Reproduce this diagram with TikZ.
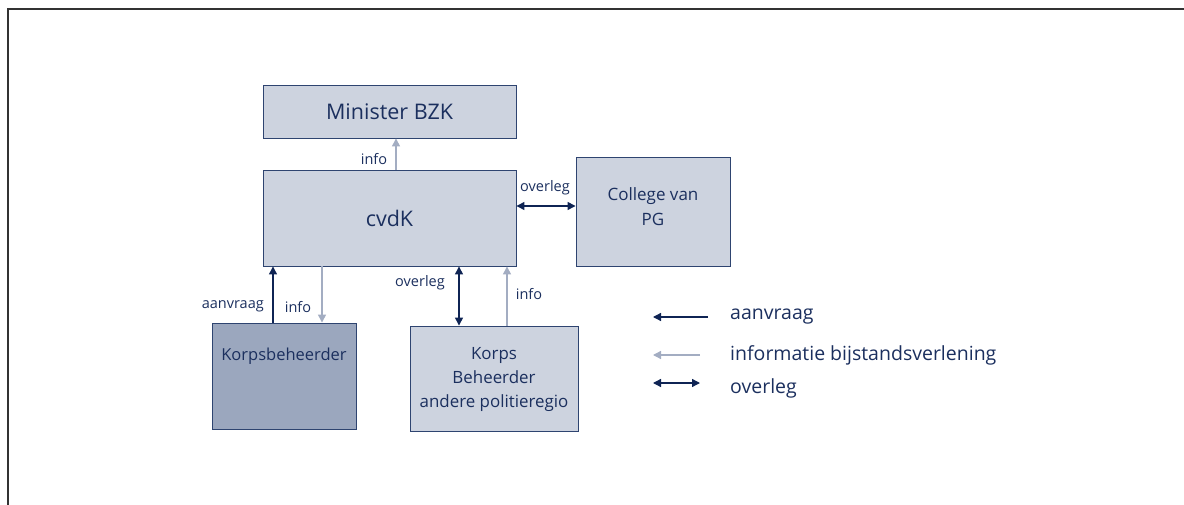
\documentclass[tikz,border=0pt]{standalone}
\usepackage{fontspec}
\setmainfont{Open Sans}
\usetikzlibrary{arrows.meta}
\definecolor{boxfill}{HTML}{CDD3DF}
\definecolor{boxdark}{HTML}{9BA7BE}
\definecolor{boxline}{HTML}{2E4470}
\definecolor{navy}{HTML}{1B2F5E}
\definecolor{arrdark}{HTML}{0F2454}
\definecolor{arrgray}{HTML}{A3ADC2}
\definecolor{frame}{HTML}{333333}
\tikzset{
  box/.style={draw=boxline, fill=boxfill, line width=0.9pt, inner sep=0pt, text=navy, align=center},
  req/.style={draw=arrdark, line width=1.3pt, -{Triangle[length=8pt,width=8pt]}},
  inf/.style={draw=arrgray, line width=1.3pt, -{Triangle[length=8pt,width=8pt]}},
  ovl/.style={draw=arrdark, line width=1.3pt, {Triangle[length=8pt,width=8pt]}-{Triangle[length=8pt,width=8pt]}},
  lbl/.style={text=navy, font=\fontsize{14.5}{16}\selectfont, inner sep=0pt},
  leg/.style={text=navy, font=\fontsize{19.5}{22}\selectfont, anchor=west, inner sep=0pt}
}
\begin{document}
\begin{tikzpicture}[x=1pt,y=-1pt]
\useasboundingbox (0,0) rectangle (1184,505);
\draw[frame, line width=1.2pt] (8,505) -- (8,9) -- (1184,9);
% boxes
\node[box, minimum width=253pt, minimum height=53pt, font=\fontsize{21.5}{24}\selectfont] (min) at (389.5,111.5) {Minister BZK};
\node[box, minimum width=253pt, minimum height=96pt, font=\fontsize{21.5}{24}\selectfont] (cvdk) at (389.5,218) {cvdK};
\node[box, minimum width=154pt, minimum height=109pt] (pg) at (653,211.5) {};
\node[text=navy, align=center, font=\fontsize{17}{25}\selectfont] (pgt) at (653,207) {College van\\PG};
\node[box, fill=boxdark, draw=boxline, minimum width=144pt, minimum height=106pt] (kb) at (284,376) {};
\node[text=navy, font=\fontsize{16.5}{19}\selectfont] (kbt) at (284,356) {Korpsbeheerder};
\node[box, minimum width=168pt, minimum height=105pt] (ka) at (494,378.5) {};
\node[text=navy, align=center, font=\fontsize{16.9}{24}\selectfont] (kat) at (494,379) {Korps\\Beheerder\\andere politieregio};
% connectors
\draw[inf] (cvdk.north -| 396,0) -- (min.south -| 396,0);
\node[lbl] (l1) at (374,159) {info};
\draw[ovl] (cvdk.east |- 0,206) -- (pg.west |- 0,206);
\node[lbl] (l2) at (545,188) {overleg};
\draw[req] (kb.north -| 273,0) -- (cvdk.south -| 273,0);
\node[lbl, anchor=east] (l3) at (264,306) {aanvraag};
\draw[inf] (cvdk.south -| 322,0) -- (kb.north -| 322,0);
\node[lbl] (l4) at (298,307) {info};
\draw[ovl] (cvdk.south -| 459,0) -- (ka.north -| 459,0);
\node[lbl] (l5) at (420,283) {overleg};
\draw[inf] (ka.north -| 507,0) -- (cvdk.south -| 507,0);
\node[lbl] (l6) at (529,294) {info};
% legend
\coordinate (a1) at (708,317); \coordinate (a2) at (653,317);
\draw[req] (a1) -- (a2);
\node[leg] (t1) at (730,317) {aanvraag};
\coordinate (b1) at (700,355); \coordinate (b2) at (653,355);
\draw[inf] (b1) -- (b2);
\node[leg] (t2) at (730,355) {informatie bijstandsverlening};
\coordinate (c1) at (653,383); \coordinate (c2) at (700,383);
\draw[ovl] (c1) -- (c2);
\node[leg] (t3) at (730,388) {overleg};
\end{tikzpicture}
\end{document}
